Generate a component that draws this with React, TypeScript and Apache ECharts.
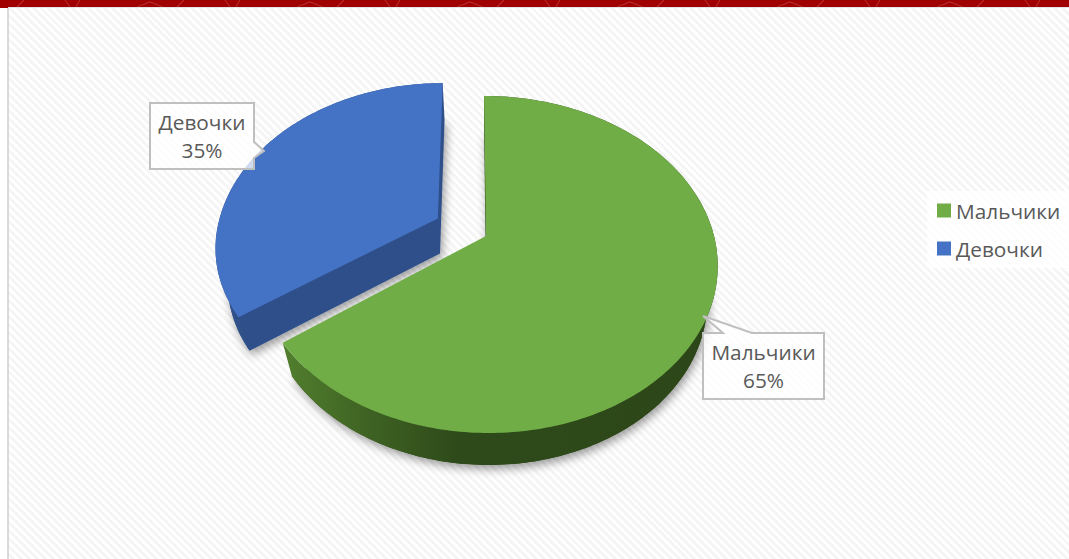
import React, { useEffect, useRef } from "react";
import * as echarts from "echarts";

const categories = ["Мальчики", "Девочки"];
const values = [65, 35];
const explode = [0, 0.24];
const squeezeX = [1, 0.975];
const squeezeDown = [1, 0.96];
const topColors = ["#70ad47", "#4472c4"];
const darkColors = ["#2d4619", "#2f5089"];
const wallStops = [
  [
    { offset: 0, color: "#527f2e" },
    { offset: 0.2, color: "#3e6223" },
    { offset: 0.4, color: "#2e4a1a" },
    { offset: 1, color: "#2d4619" },
  ],
  [
    { offset: 0, color: "#2f5089" },
    { offset: 1, color: "#2f5089" },
  ],
];
// callout: box left, top, right, bottom; pointer polygon continues through these points
const callouts = [
  { box: [703, 333, 824, 399], pointer: [[723, 333], [703, 316], [752, 333]], side: "top" },
  { box: [150, 103, 254, 169], pointer: [[254, 142], [264, 151], [254, 158]], side: "right" },
];
const bandMotif = [
  [[17, 7], [24, 0]],
  [[65, 0], [70, 7]],
  [[80, 0], [76, 7]],
  [[137, 7], [150, 2], [163, 7]],
];

const FONT = '"Open Sans", "Noto Sans", sans-serif';
const AX = 486;
const AY = 236;
const RX = 228;
const RY = 163.7;
const K = 0.169;
const SHEAR = 0.014;
const DEPTH = 34.7;
const total = values.reduce((a, b) => a + b, 0);

function project(index: number, theta: number, bis: number, radial: number, lower: boolean) {
  const e = explode[index];
  const u = radial * Math.sin(theta) + e * Math.sin(bis);
  const v = -radial * Math.cos(theta) - e * Math.cos(bis);
  const w = 1 - K * v;
  const X = (u * RX) / w;
  const Y = (v * RY) / w;
  const u0 = e * Math.sin(bis);
  const v0 = -e * Math.cos(bis);
  const w0 = 1 - K * v0;
  const X0 = (u0 * RX) / w0;
  const Y0 = (v0 * RY) / w0;
  const sx = X0 + (X - X0) * squeezeX[index];
  const sy = Y > Y0 ? Y0 + (Y - Y0) * squeezeDown[index] : Y;
  let x = AX + sx + SHEAR * sy;
  let y = AY + sy;
  if (lower) {
    x = AX + (x - AX) * 0.955;
    y = AY + (y - AY) * 0.986 + DEPTH;
  }
  return [x, y];
}

function rim(index: number, a: number, b: number, bis: number, lower: boolean) {
  const pts: number[][] = [];
  const n = Math.max(8, Math.ceil(((b - a) / Math.PI) * 180));
  for (let i = 0; i <= n; i++) {
    pts.push(project(index, a + ((b - a) * i) / n, bis, 1, lower));
  }
  return pts;
}

function calloutPoints(c: (typeof callouts)[number]) {
  const [l, t, r, b] = c.box;
  if (c.side === "top") return [[l, t], ...c.pointer, [r, t], [r, b], [l, b]];
  return [[l, t], [r, t], ...c.pointer, [r, b], [l, b]];
}

function makeRender(index: number) {
  return (_params: any, api: any) => {
    const a = (api.value(0) / total) * Math.PI * 2;
    const b = (api.value(1) / total) * Math.PI * 2;
    const bis = (a + b) / 2;
    const topRim = rim(index, a, b, bis, false);
    const lowRim = rim(index, a, b, bis, true);
    const apexTop = project(index, 0, bis, 0, false);
    const apexLow = project(index, 0, bis, 0, true);
    const c = callouts[index];
    const cx = (c.box[0] + c.box[2]) / 2;
    const cy = (c.box[1] + c.box[3]) / 2;
    const labelFont = `20.8px ${FONT}`;
    return {
      type: "group",
      children: [
        {
          type: "polygon",
          shape: { points: [apexLow, ...lowRim] },
          style: {
            fill: darkColors[index],
            shadowBlur: 10,
            shadowColor: "rgba(0,0,0,0.4)",
            shadowOffsetX: 2,
            shadowOffsetY: 4,
          },
        },
        {
          type: "polygon",
          shape: { points: [...topRim, ...lowRim.slice().reverse()] },
          style: {
            fill: new echarts.graphic.LinearGradient(0, 0, 1, 0, wallStops[index]),
          },
        },
        {
          type: "polygon",
          shape: { points: [apexTop, ...topRim] },
          style: { fill: topColors[index] },
        },
        {
          type: "polygon",
          shape: { points: calloutPoints(c) },
          style: { fill: "rgba(255,255,255,0.75)", stroke: "#bfbfbf", lineWidth: 2 },
        },
        {
          type: "text",
          style: {
            text: categories[index],
            x: cx,
            y: cy - 14,
            align: "center",
            verticalAlign: "middle",
            fill: "#595959",
            font: labelFont,
          },
        },
        {
          type: "text",
          style: {
            text: `${values[index]}%`,
            x: cx,
            y: cy + 14,
            align: "center",
            verticalAlign: "middle",
            fill: "#595959",
            font: labelFont,
          },
        },
      ],
    };
  };
}

export default function App() {
  const ref = useRef<HTMLDivElement>(null);
  useEffect(() => {
    document.body.style.margin = "0";
    const chart = echarts.init(ref.current!, null, { renderer: "svg" });
    let cum = 0;
    const spans = values.map((v) => {
      const s = [cum, cum + v];
      cum += v;
      return s;
    });
    const order = [1, 0];
    const motifs: any[] = [];
    for (let k = 0; k < 7; k++) {
      bandMotif.forEach((m) => {
        motifs.push({
          type: "polyline",
          z: -9,
          shape: { points: m.map((p) => [p[0] + k * 160, p[1]]) },
          style: { stroke: "#b62a2a", lineWidth: 1.2, fill: "none" },
        });
      });
    }
    chart.setOption({
      animation: false,
      backgroundColor: "transparent",
      tooltip: { show: false },
      legend: {
        data: categories,
        orient: "vertical",
        left: 927,
        top: 191,
        padding: [9, 10, 9, 10],
        itemWidth: 14,
        itemHeight: 14,
        itemGap: 17,
        icon: "rect",
        backgroundColor: "rgba(255,255,255,0.75)",
        selectedMode: false,
        textStyle: { fontFamily: FONT, fontSize: 20.8, color: "#595959", padding: [0, 0, 0, 0] },
      },
      graphic: [
        { type: "rect", z: -10, shape: { x: 0, y: 0, width: 1069, height: 7 }, style: { fill: "#a00000" } },
        { type: "rect", z: -10, shape: { x: 0, y: 7, width: 8, height: 1 }, style: { fill: "#a00000" } },
        ...motifs,
        { type: "rect", z: -8, shape: { x: 8, y: 7, width: 1061, height: 1 }, style: { fill: "#e4e4e4" } },
        { type: "rect", z: -8, shape: { x: 7, y: 8, width: 2, height: 551 }, style: { fill: "#d9d9d9" } },
      ],
      series: order.map((i) => ({
        type: "custom",
        name: categories[i],
        coordinateSystem: "none",
        silent: true,
        itemStyle: { color: topColors[i] },
        data: [spans[i]],
        renderItem: makeRender(i),
      })),
    });
    return () => chart.dispose();
  }, []);
  return (
    <div
      style={{
        position: "fixed",
        left: 0,
        top: 0,
        width: 1069,
        height: 559,
        background:
          "linear-gradient(#fff,#fff) 0 0 / 8px 100% no-repeat, repeating-linear-gradient(45deg, #ffffff 0, #ffffff 2.8px, #f5f5f5 2.8px, #f5f5f5 5.6px)",
      }}
    >
      <div ref={ref} style={{ width: 1069, height: 559 }} />
    </div>
  );
}
